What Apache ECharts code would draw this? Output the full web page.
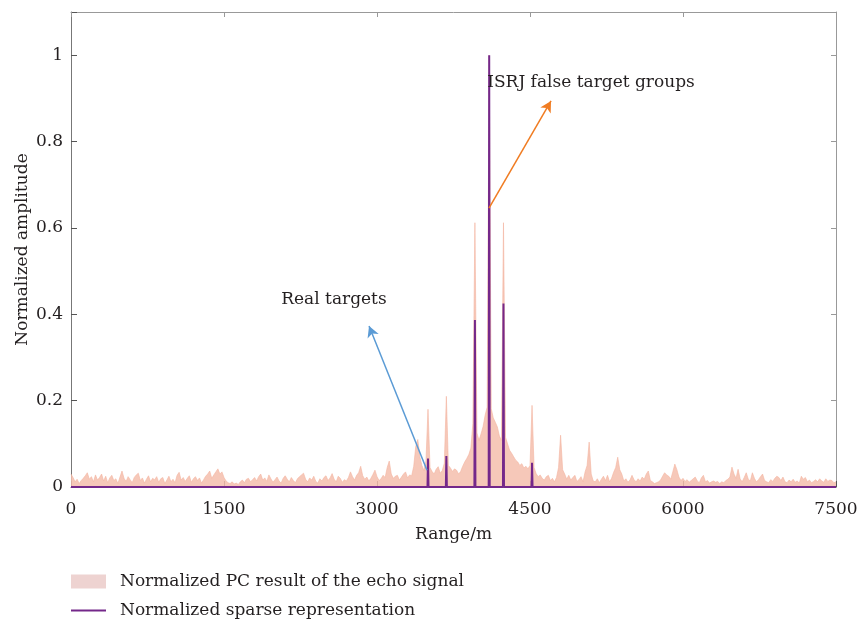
<!DOCTYPE html>
<html>
<head>
<meta charset="utf-8">
<script src="https://cdn.jsdelivr.net/npm/echarts@6/dist/echarts.min.js"></script>
<style>html,body{margin:0;padding:0;background:#fff}#c{width:864px;height:626px}</style>
</head>
<body>
<div id="c"></div>
<script>
// Range grid step for PC result (m)
const pcStep = 20;
// Normalized PC result of the echo signal, sampled every 20 m from 0 to 7500 m
const pcAmp = [
 0.030,0.022,0.012,0.018,0.008,0.015,0.020,0.026,0.033,0.018,0.024,0.012,0.028,0.016,0.022,0.030,0.014,0.025,0.010,0.021,0.027,0.015,0.019,0.008,0.023,
 0.037,0.020,0.013,0.024,0.017,0.010,0.022,0.028,0.032,0.015,0.021,0.009,0.018,0.026,0.012,0.020,0.017,0.024,0.011,0.019,0.022,0.008,0.016,0.025,0.012,
 0.018,0.010,0.027,0.034,0.016,0.022,0.013,0.020,0.026,0.011,0.019,0.024,0.015,0.021,0.009,0.017,0.025,0.030,0.037,0.020,0.028,0.035,0.042,0.030,0.035,
 0.022,0.014,0.010,0.008,0.012,0.007,0.009,0.006,0.012,0.016,0.010,0.018,0.020,0.012,0.017,0.022,0.014,0.024,0.030,0.016,0.021,0.013,0.028,0.019,0.011,
 0.017,0.023,0.014,0.009,0.020,0.026,0.018,0.012,0.022,0.015,0.010,0.019,0.024,0.028,0.032,0.018,0.012,0.021,0.016,0.025,0.013,0.009,0.019,0.014,0.022,
 0.026,0.015,0.021,0.031,0.018,0.012,0.025,0.020,0.011,0.017,0.014,0.022,0.035,0.024,0.016,0.027,0.033,0.048,0.026,0.018,0.023,0.014,0.020,0.029,0.039,
 0.024,0.015,0.019,0.027,0.022,0.045,0.060,0.030,0.020,0.025,0.027,0.016,0.023,0.030,0.035,0.021,0.028,0.026,0.048,0.094,0.110,0.070,0.050,0.038,0.060,
 0.180,0.045,0.036,0.030,0.041,0.047,0.032,0.038,0.055,0.210,0.050,0.044,0.036,0.042,0.039,0.030,0.036,0.048,0.058,0.066,0.075,0.090,0.147,0.612,0.125,
 0.108,0.123,0.140,0.166,0.185,1.000,0.181,0.160,0.150,0.139,0.118,0.108,0.612,0.115,0.100,0.085,0.078,0.070,0.062,0.058,0.050,0.054,0.044,0.048,0.042,
 0.050,0.189,0.045,0.031,0.024,0.028,0.020,0.016,0.024,0.027,0.015,0.020,0.012,0.022,0.045,0.120,0.040,0.030,0.018,0.027,0.016,0.022,0.027,0.013,0.017,
 0.024,0.012,0.035,0.050,0.104,0.030,0.014,0.012,0.019,0.010,0.018,0.025,0.015,0.027,0.012,0.020,0.034,0.045,0.069,0.040,0.030,0.014,0.019,0.011,0.016,
 0.027,0.017,0.012,0.019,0.014,0.023,0.018,0.030,0.037,0.015,0.012,0.008,0.010,0.012,0.016,0.025,0.033,0.028,0.025,0.018,0.035,0.053,0.040,0.023,0.015,
 0.020,0.013,0.017,0.011,0.015,0.019,0.023,0.014,0.010,0.021,0.027,0.012,0.015,0.009,0.012,0.014,0.011,0.013,0.008,0.012,0.010,0.015,0.018,0.023,0.046,
 0.030,0.020,0.041,0.019,0.012,0.022,0.033,0.018,0.014,0.033,0.020,0.012,0.017,0.024,0.030,0.015,0.012,0.010,0.017,0.013,0.020,0.025,0.022,0.015,0.023,
 0.012,0.010,0.016,0.012,0.018,0.011,0.014,0.009,0.025,0.018,0.022,0.012,0.016,0.010,0.013,0.017,0.012,0.019,0.014,0.011,0.019,0.013,0.016,0.015,0.010,
 0.012
];
// Normalized sparse representation: nonzero positions (m) and amplitudes
const srRange = [3500, 3680, 3960, 4100, 4240, 4520];
const srAmp   = [0.066, 0.072, 0.387, 1.000, 0.425, 0.056];
const rangeMax = 7500;

const seriesNames = ['Normalized PC result of the echo signal', 'Normalized sparse representation'];
const annFalse = {text: 'ISRJ false target groups', at: [5098, 0.937], from: [4098, 0.646], to: [4706, 0.894]};
const annReal  = {text: 'Real targets', at: [2578, 0.433], from: [3490, 0.039], to: [2922, 0.373]};

const pcData = pcAmp.map((v, i) => [i * pcStep, v]);
const srData = [[0, 0]];
srRange.forEach((r, i) => { srData.push([r - 5, 0], [r, srAmp[i]], [r + 5, 0]); });
srData.push([rangeMax, 0]);

const FONT = 'DejaVu Serif';
const FS = 17;
const TXT = '#231f20';
const PURPLE = '#74288a';
const chart = echarts.init(document.getElementById('c'));
chart.setOption({
  animation: false,
  textStyle: {fontFamily: FONT, color: TXT},
  grid: {left: 71, right: 28, top: 12, bottom: 139},
  legend: {
    orient: 'vertical', left: 71, top: 573, height: 80, padding: 0,
    itemWidth: 35, itemHeight: 14, itemGap: 12,
    symbolKeepAspect: true,
    textStyle: {fontFamily: FONT, fontSize: FS, color: TXT, padding: [0, 0, 0, 9]},
    data: [
      {name: seriesNames[0], icon: 'rect', itemStyle: {color: '#eed3d1'}},
      {name: seriesNames[1], icon: 'path://M0,0L35,0L35,2L0,2Z', itemStyle: {color: PURPLE}}
    ]
  },
  xAxis: [{
    type: 'value', min: 0, max: rangeMax, interval: 1500,
    name: 'Range/m', nameLocation: 'middle', nameGap: 39,
    nameTextStyle: {fontFamily: FONT, fontSize: FS, color: TXT},
    axisLine: {show: true, onZero: false, lineStyle: {color: '#777', width: 1}},
    axisTick: {show: true, inside: true, length: 6, lineStyle: {color: '#555'}},
    axisLabel: {fontFamily: FONT, fontSize: FS, color: TXT, margin: 14, formatter: v => String(v)},
    splitLine: {show: false}
  }, {
    type: 'value', min: 0, max: rangeMax, interval: 1500, position: 'top',
    axisLine: {show: true, onZero: false, lineStyle: {color: '#999', width: 1}},
    axisTick: {show: true, inside: true, length: 5, lineStyle: {color: '#999'}},
    axisLabel: {show: false}, splitLine: {show: false}
  }],
  yAxis: [{
    type: 'value', min: 0, max: 1.1, interval: 0.2,
    name: 'Normalized amplitude', nameLocation: 'middle', nameGap: 40, nameMoveOverlap: false,
    nameTextStyle: {fontFamily: FONT, fontSize: FS, color: TXT},
    axisLine: {show: true, onZero: false, lineStyle: {color: '#777', width: 1}},
    axisTick: {show: true, inside: true, length: 6, lineStyle: {color: '#555'}},
    axisLabel: {fontFamily: FONT, fontSize: FS, color: TXT, margin: 8,
      formatter: v => v > 1.05 ? '' : String(Math.round(v * 10) / 10)},
    splitLine: {show: false}
  }, {
    type: 'value', min: 0, max: 1.1, interval: 0.2, position: 'right',
    axisLine: {show: true, onZero: false, lineStyle: {color: '#999', width: 1}},
    axisTick: {show: true, inside: true, length: 5, lineStyle: {color: '#999'}},
    axisLabel: {show: false}, splitLine: {show: false}
  }],
  series: [{
    name: seriesNames[0], type: 'line', data: pcData, symbol: 'none', z: 2,
    itemStyle: {color: '#f3b8a4'},
    lineStyle: {color: '#f3b4a0', width: 0.6},
    areaStyle: {color: '#f5bead', opacity: 0.85},
    markLine: {
      silent: true, symbol: ['none', 'arrow'], symbolSize: [9, 11], label: {show: false},
      data: [
        [{coord: annFalse.from, lineStyle: {color: '#f07c22', width: 1.5, type: 'solid'}}, {coord: annFalse.to}],
        [{coord: annReal.from, lineStyle: {color: '#5b9bd5', width: 1.5, type: 'solid'}}, {coord: annReal.to}]
      ]
    },
    markPoint: {
      silent: true, symbol: 'circle', symbolSize: 0,
      label: {show: true, position: 'inside', fontFamily: FONT, fontSize: FS, color: TXT, formatter: p => p.name},
      data: [
        {name: annFalse.text, coord: annFalse.at},
        {name: annReal.text, coord: annReal.at}
      ]
    }
  }, {
    name: seriesNames[1], type: 'line', data: srData, symbol: 'none', z: 3,
    itemStyle: {color: PURPLE},
    lineStyle: {color: PURPLE, width: 2}
  }]
});
</script>
</body>
</html>
